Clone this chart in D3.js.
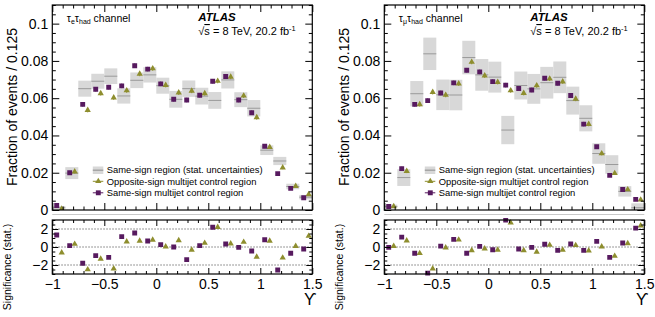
<!DOCTYPE html>
<html><head><meta charset="utf-8">
<script src="https://cdn.jsdelivr.net/npm/d3@7"></script>
<style>
body{margin:0;background:#fff}
svg{display:block}
text{font-family:"Liberation Sans",Arial,Helvetica,sans-serif;fill:#000}
</style>
</head><body>
<svg id="c" width="655" height="317"></svg>
<script>
// ---------------- data ----------------
const binLow = [-1,-0.875,-0.75,-0.625,-0.5,-0.375,-0.25,-0.125,0,0.125,0.25,0.375,0.5,0.625,0.75,0.875,1,1.125,1.25,1.375];
const binWidth = 0.125;

// tau_e tau_had channel
const ehSameSignRegion    = [0.0012,0.0198,0.0651,0.0691,0.0718,0.0612,0.0696,0.0725,0.0667,0.0594,0.0651,0.0611,0.0588,0.0698,0.0592,0.0546,0.0321,0.0263,0.0126,0.0069];
const ehSameSignRegionErr = [0.0009,0.0032,0.0043,0.0040,0.0042,0.0041,0.0042,0.0041,0.0043,0.0045,0.0044,0.0045,0.0045,0.0046,0.0040,0.0044,0.0026,0.0022,0.0015,0.0012];
const ehOppSignMultijet   = [0.0006,0.0206,0.0536,0.0626,0.0603,0.0641,0.0730,0.0759,0.0670,0.0630,0.0639,0.0626,0.0692,0.0714,0.0613,0.0497,0.0337,0.0227,0.0128,0.0084];
const ehSameSignMultijet  = [0.0024,0.0200,0.0567,0.0648,0.0659,0.0666,0.0774,0.0756,0.0677,0.0594,0.0590,0.0616,0.0691,0.0716,0.0590,0.0522,0.0342,0.0195,0.0116,0.0066];
const ehSigOppSign        = [-0.63,0.33,-2.5,-1.33,-2.4,0.6,0.67,0.78,0.04,0.74,-0.33,0.44,2.2,0.37,0.55,-1.1,0.67,-1.2,0.1,1.22];
const ehSigSameSign       = [1.33,0.15,-1.8,-0.96,-1.15,1.15,1.55,0.67,0.26,0.0,-1.4,0.15,2.2,0.33,-0.04,-0.44,0.8,-2.55,-0.7,-0.22];

// tau_mu tau_had channel
const mhSameSignRegion    = [0.0019,0.0174,0.0624,0.0838,0.0618,0.0617,0.0818,0.0725,0.0713,0.0429,0.0668,0.0650,0.0683,0.0712,0.0587,0.0492,0.0303,0.0244,0.0100,0.0012];
const mhSameSignRegionErr = [0.0010,0.0045,0.0068,0.0087,0.0082,0.0082,0.0090,0.0085,0.0083,0.0076,0.0075,0.0080,0.0085,0.0085,0.0075,0.0070,0.0055,0.0050,0.0028,0.0024];
const mhOppSignMultijet   = [0.0019,0.0208,0.0567,0.0632,0.0617,0.0678,0.0794,0.0721,0.0686,0.0641,0.0627,0.0668,0.0704,0.0689,0.0596,0.0461,0.0303,0.0197,0.0110,0.0055];
const mhSameSignMultijet  = [0.0019,0.0222,0.0567,0.0587,0.0628,0.0682,0.0750,0.0741,0.0689,0.0670,0.0652,0.0644,0.0707,0.0680,0.0614,0.0461,0.0339,0.0186,0.0110,0.0057];
const mhSigOppSign        = [0.1,0.7,-0.7,-2.4,-0.07,0.8,-0.37,-0.19,-0.33,2.7,-0.37,-0.55,0.22,-0.33,0.19,-0.4,0.04,-1.0,0.4,2.37];
const mhSigSameSign       = [-0.04,1.1,-0.7,-2.9,0.1,0.85,-0.7,0.07,-0.3,3.0,-0.22,-0.04,0.3,-0.37,0.33,-0.37,0.63,-1.15,0.44,2.1];

const pointErr = [0.0006,0.0010,0.0012,0.0012,0.0012,0.0012,0.0012,0.0012,0.0012,0.0012,0.0012,0.0012,0.0012,0.0012,0.0012,0.0012,0.0010,0.0008,0.0007,0.0006];

const xTicks = [-1,-0.5,0,0.5,1,1.5];
const xTickLabels = ["\u22121","\u22120.5","0","0.5","1","1.5"];
const yTicks = [0,0.02,0.04,0.06,0.08,0.1];
const yTickLabels = ["0","0.02","0.04","0.06","0.08","0.1"];
const sigTicks = [-2,0,2];
const sigTickLabels = ["\u22122","0","2"];
const legendLabels = ["Same-sign region (stat. uncertainties)","Opposite-sign multijet control region","Same-sign multijet control region"];

// ---------------- drawing ----------------
const svg = d3.select("#c");
const PURPLE = "#571a5f", OLIVE = "#8e8e2e", BOXFILL = "#d8d8d8", BOXLINE = "#9a9a9a";

function drawPanel(o){
  const g = svg.append("g");
  const x = d3.scaleLinear().domain([-1,1.5]).range([o.x0, o.x0+260]);
  const y = d3.scaleLinear().domain([0,0.11]).range([210,5]);
  const ys = d3.scaleLinear().domain([-3,3]).range([274,220]);
  const bw = x(binWidth) - x(0);

  const cid = "clip"+o.id;
  svg.append("clipPath").attr("id",cid).append("rect").attr("x",o.x0).attr("y",5).attr("width",260).attr("height",205);
  const rid = "rclip"+o.id;
  svg.append("clipPath").attr("id",rid).append("rect").attr("x",o.x0).attr("y",218).attr("width",260).attr("height",58);

  const main = g.append("g").attr("clip-path",`url(#${cid})`);
  main.selectAll("rect.box").data(binLow).join("rect")
    .attr("x",d=>x(d)).attr("width",bw)
    .attr("y",(d,i)=>y(o.ssr[i]+o.ssrErr[i]))
    .attr("height",(d,i)=>y(o.ssr[i]-o.ssrErr[i])-y(o.ssr[i]+o.ssrErr[i]))
    .attr("fill",BOXFILL);
  main.selectAll("line.boxl").data(binLow).join("line")
    .attr("x1",d=>x(d)).attr("x2",d=>x(d)+bw)
    .attr("y1",(d,i)=>y(o.ssr[i])).attr("y2",(d,i)=>y(o.ssr[i]))
    .attr("stroke",BOXLINE).attr("stroke-width",1);

  const sq = d3.symbol(d3.symbolSquare,24)();
  const tri = d3.symbol(d3.symbolTriangle,17)();
  const offP = -2.1, offG = 2.9;

  main.selectAll("line.eg").data(binLow).join("line")
    .attr("x1",d=>x(d+binWidth/2)+offG).attr("x2",d=>x(d+binWidth/2)+offG)
    .attr("y1",(d,i)=>y(o.os[i]+pointErr[i])).attr("y2",(d,i)=>y(o.os[i]-pointErr[i]))
    .attr("stroke",OLIVE).attr("stroke-width",1);
  main.selectAll("path.pg").data(binLow).join("path")
    .attr("d",tri).attr("fill",OLIVE)
    .attr("transform",(d,i)=>`translate(${x(d+binWidth/2)+offG},${y(o.os[i])})`);
  main.selectAll("line.ep").data(binLow).join("line")
    .attr("x1",d=>x(d+binWidth/2)+offP).attr("x2",d=>x(d+binWidth/2)+offP)
    .attr("y1",(d,i)=>y(o.ss[i]+pointErr[i])).attr("y2",(d,i)=>y(o.ss[i]-pointErr[i]))
    .attr("stroke",PURPLE).attr("stroke-width",1);
  main.selectAll("path.pp").data(binLow).join("path")
    .attr("d",sq).attr("fill",PURPLE)
    .attr("transform",(d,i)=>`translate(${x(d+binWidth/2)+offP},${y(o.ss[i])})`);

  function ticks(axisFn, scale, vals, labels, size, pos, isX){
    const a = axisFn(scale).tickValues(vals).tickSizeInner(-size).tickSizeOuter(0).tickPadding(4)
      .tickFormat(labels ? ((d,i)=>labels[i]) : "");
    const gg = g.append("g").attr("transform", isX ? `translate(0,${pos})` : `translate(${pos},0)`).call(a);
    gg.select(".domain").remove();
    gg.selectAll("line").attr("stroke","#000");
    gg.selectAll("text").attr("font-size",14).attr("font-family",'"Liberation Sans",Arial,sans-serif').attr("fill","#000");
    return gg;
  }
  const minorY = d3.range(0,0.1101,0.005).filter(v=>Math.abs(v/0.02-Math.round(v/0.02))>1e-6);
  const minorX = d3.range(-1,1.5001,0.1).filter(v=>Math.abs(v/0.5-Math.round(v/0.5))>1e-6);
  ticks(d3.axisLeft, y, yTicks, yTickLabels, 7, o.x0, false);
  ticks(d3.axisLeft, y, minorY, null, 3.5, o.x0, false);
  ticks(d3.axisRight, y, yTicks, null, 7, o.x0+260, false);
  ticks(d3.axisRight, y, minorY, null, 3.5, o.x0+260, false);
  ticks(d3.axisBottom, x, xTicks, null, 7, 210, true);
  ticks(d3.axisBottom, x, minorX, null, 3.5, 210, true);
  ticks(d3.axisTop, x, xTicks, null, 7, 5, true);
  ticks(d3.axisTop, x, minorX, null, 3.5, 5, true);
  g.append("rect").attr("x",o.x0).attr("y",5).attr("width",260).attr("height",205)
    .attr("fill","none").attr("stroke","#000").attr("stroke-width",1.2);

  g.append("line").attr("x1",o.x0).attr("x2",o.x0+260).attr("y1",214.5).attr("y2",214.5)
    .attr("stroke","#c8c8c8").attr("stroke-width",1.2);

  g.append("text").attr("transform",`translate(${o.x0-35},107) rotate(-90)`)
    .attr("text-anchor","middle").attr("font-size",14).text("Fraction of events / 0.125");

  const ch = g.append("text").attr("x",o.x0+14.5).attr("y",21.5).attr("font-size",10.5);
  ch.append("tspan").text("\u03c4");
  ch.append("tspan").attr("font-size",7).attr("dy",2.5).text(o.lep);
  ch.append("tspan").attr("dy",-2.5).text("\u03c4");
  ch.append("tspan").attr("font-size",7).attr("dy",2.5).text("had");
  ch.append("tspan").attr("dy",-2.5).text(" channel");

  g.append("text").attr("x",o.x0+146).attr("y",21).attr("font-size",11.5)
    .attr("font-weight","bold").attr("font-style","italic").text("ATLAS");
  const en = g.append("text").attr("x",o.x0+146).attr("y",35).attr("font-size",11);
  en.append("tspan").text("\u221a");
  en.append("tspan").style("text-decoration","overline").text("s");
  en.append("tspan").text(" = 8 TeV, 20.2 fb");
  en.append("tspan").attr("font-size",7.5).attr("dy",-4).text("-1");

  const lx = o.x0+40.5;
  const lg = g.append("g");
  lg.append("rect").attr("x",lx).attr("y",166.5).attr("width",10.5).attr("height",7.5).attr("fill",BOXFILL);
  lg.append("line").attr("x1",lx).attr("x2",lx+10.5).attr("y1",170.2).attr("y2",170.2).attr("stroke",BOXLINE).attr("stroke-width",1.2);
  lg.append("line").attr("x1",lx).attr("x2",lx+10.5).attr("y1",181.3).attr("y2",181.3).attr("stroke",OLIVE).attr("stroke-width",1);
  lg.append("path").attr("d",tri).attr("fill",OLIVE).attr("transform",`translate(${lx+5.5},181.3)`);
  lg.append("line").attr("x1",lx).attr("x2",lx+10.5).attr("y1",192.8).attr("y2",192.8).attr("stroke",PURPLE).attr("stroke-width",1);
  lg.append("path").attr("d",sq).attr("fill",PURPLE).attr("transform",`translate(${lx+5.5},192.8)`);
  [170.2,181.3,192.8].forEach((yy,i)=>{
    lg.append("text").attr("x",lx+14).attr("y",yy).attr("dy","0.35em").attr("font-size",9.4).text(legendLabels[i]);
  });

  const rg = g.append("g");
  const rc = rg.append("g").attr("clip-path",`url(#${rid})`);
  rc.selectAll("line.ref").data(sigTicks).join("line")
    .attr("x1",o.x0).attr("x2",o.x0+260).attr("y1",d=>ys(d)).attr("y2",d=>ys(d))
    .attr("stroke","#555").attr("stroke-width",0.8).attr("stroke-dasharray","1.5,1.5");
  rc.selectAll("path.rg").data(binLow).join("path")
    .attr("d",tri).attr("fill",OLIVE)
    .attr("transform",(d,i)=>`translate(${x(d+binWidth/2)+offG},${ys(o.sigOS[i])})`);
  rc.selectAll("path.rp").data(binLow).join("path")
    .attr("d",sq).attr("fill",PURPLE)
    .attr("transform",(d,i)=>`translate(${x(d+binWidth/2)+offP},${ys(o.sigSS[i])})`);

  const minorS = d3.range(-3,3.001,0.5).filter(v=>Math.abs(v/2-Math.round(v/2))>1e-6);
  ticks(d3.axisLeft, ys, sigTicks, sigTickLabels, 6, o.x0, false);
  ticks(d3.axisLeft, ys, minorS, null, 3, o.x0, false);
  ticks(d3.axisRight, ys, sigTicks, null, 6, o.x0+260, false);
  ticks(d3.axisRight, ys, minorS, null, 3, o.x0+260, false);
  const bx = ticks(d3.axisBottom, x, xTicks, xTickLabels, 6, 274, true);
  bx.selectAll("text").attr("dy","0.9em").attr("y",2);
  ticks(d3.axisBottom, x, minorX, null, 3, 274, true);
  ticks(d3.axisTop, x, xTicks, null, 6, 220, true);
  ticks(d3.axisTop, x, minorX, null, 3, 220, true);
  rg.append("rect").attr("x",o.x0).attr("y",220).attr("width",260).attr("height",54)
    .attr("fill","none").attr("stroke","#000").attr("stroke-width",1.2);

  g.append("text").attr("transform",`translate(${o.x0-41.5},267) rotate(-90)`)
    .attr("text-anchor","middle").attr("font-size",10.5).text("Significance (stat.)");
  g.append("text").attr("x",o.x0+258).attr("y",305).attr("text-anchor","middle")
    .attr("font-family",'"DejaVu Serif",serif').attr("font-size",16).text("\u03d2");
}

drawPanel({id:"e", x0:52.3, lep:"e",
  ssr:ehSameSignRegion, ssrErr:ehSameSignRegionErr, os:ehOppSignMultijet, ss:ehSameSignMultijet,
  sigOS:ehSigOppSign, sigSS:ehSigSameSign});
drawPanel({id:"m", x0:384.3, lep:"\u03bc",
  ssr:mhSameSignRegion, ssrErr:mhSameSignRegionErr, os:mhOppSignMultijet, ss:mhSameSignMultijet,
  sigOS:mhSigOppSign, sigSS:mhSigSameSign});
</script>
</body></html>
